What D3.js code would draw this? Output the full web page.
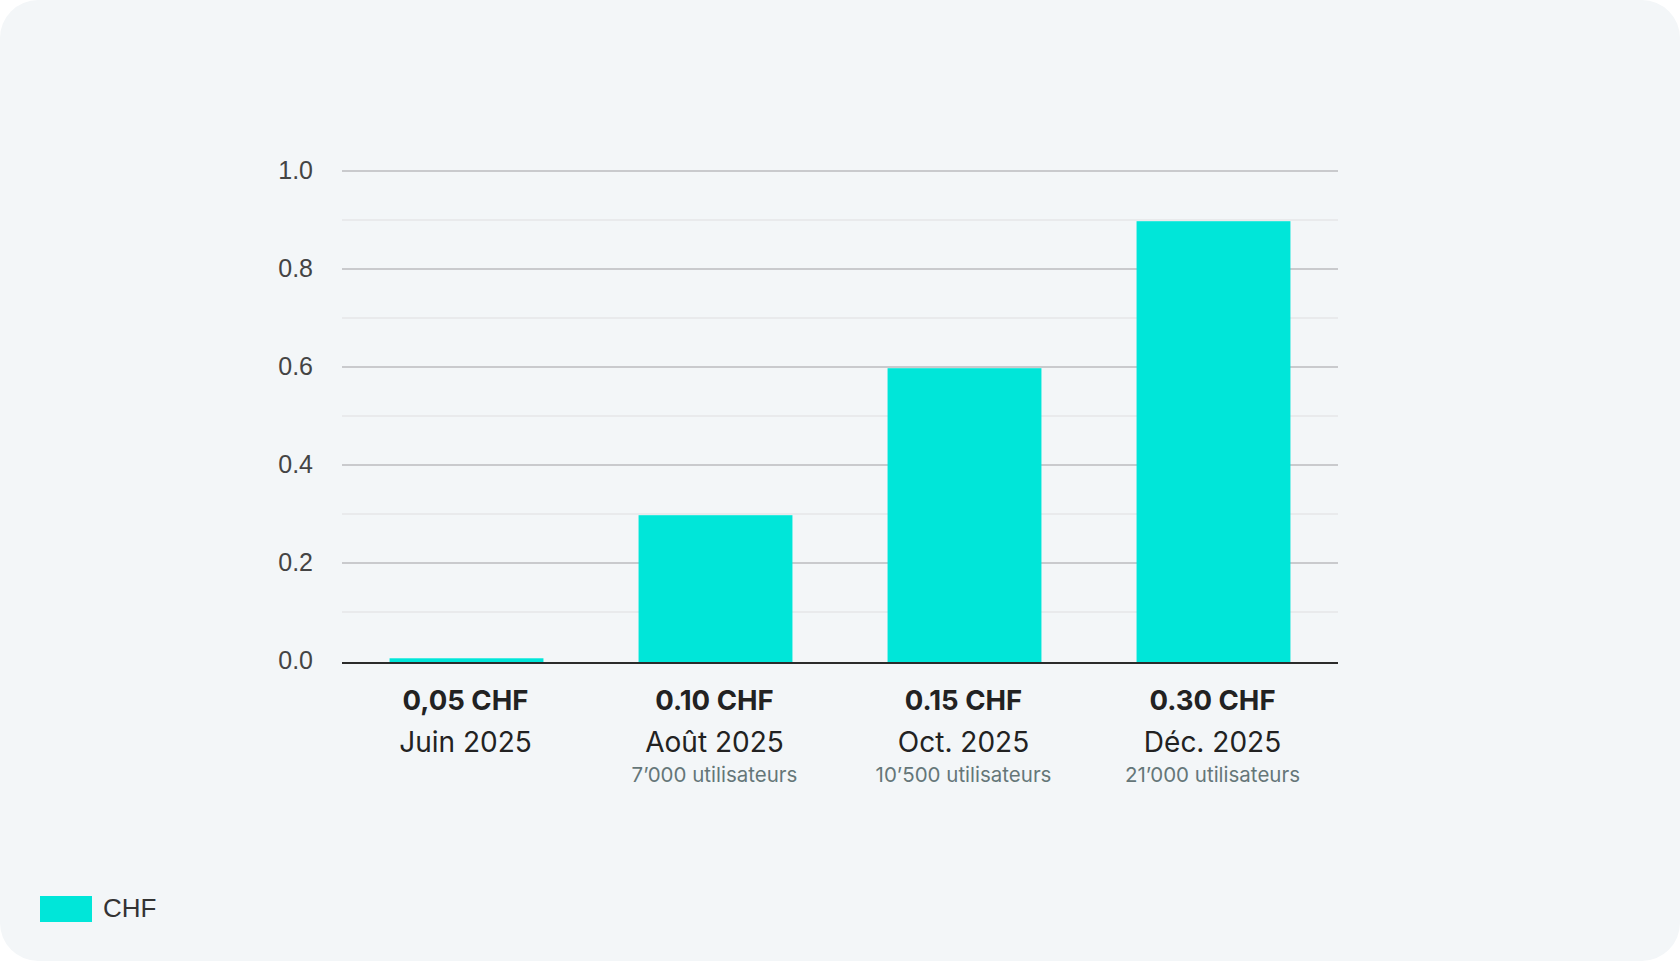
<!DOCTYPE html>
<html><head><meta charset="utf-8">
<script src="https://cdn.jsdelivr.net/npm/d3@7"></script>
<style>
html,body{margin:0;padding:0;background:#ffffff;}
svg{display:block;}
</style></head>
<body>
<svg id="chart" width="1680" height="962"></svg>
<script>
const categories = ["Juin 2025", "Août 2025", "Oct. 2025", "Déc. 2025"];
const values = [0.008, 0.3, 0.6, 0.9];
const priceLabels = ["0,05 CHF", "0.10 CHF", "0.15 CHF", "0.30 CHF"];
const userLabels = ["", "7’000 utilisateurs", "10’500 utilisateurs", "21’000 utilisateurs"];
const majorTicks = [0, 0.2, 0.4, 0.6, 0.8, 1.0];
const minorTicks = [0.1, 0.3, 0.5, 0.7, 0.9];
const seriesName = "CHF";

const svg = d3.select("#chart");
svg.append("rect").attr("x",0).attr("y",0).attr("width",1680).attr("height",961)
  .attr("rx",38).attr("ry",38).attr("fill","#f3f6f8");

const x = d3.scaleBand().domain(categories).range([342, 1338]).paddingInner(0.382).paddingOuter(0.191);
const y = d3.scaleLinear().domain([0, 1]).range([661, 171]);

const grid = svg.append("g");
grid.selectAll("line.minor").data(minorTicks).join("line").attr("class","minor")
  .attr("x1",342).attr("x2",1338).attr("y1",d=>y(d)).attr("y2",d=>y(d))
  .attr("stroke","#e9eaec").attr("stroke-width",2);
grid.selectAll("line.major").data(majorTicks.filter(d=>d>0)).join("line").attr("class","major")
  .attr("x1",342).attr("x2",1338).attr("y1",d=>y(d)).attr("y2",d=>y(d))
  .attr("stroke","#c9cacd").attr("stroke-width",2);

const yAxis = d3.axisLeft(y).tickValues(majorTicks).tickFormat(d3.format(".1f")).tickSize(0).tickPadding(29);
const ya = svg.append("g").attr("transform","translate(342,0)").call(yAxis);
ya.select(".domain").remove();
ya.selectAll("text").attr("font-family","'Liberation Sans', Arial, sans-serif")
  .attr("font-size",25).attr("fill","#444").attr("dy","0.28em");

svg.append("g").selectAll("rect").data(values).join("rect")
  .attr("x",(d,i)=>x(categories[i])).attr("width",x.bandwidth())
  .attr("y",d=>y(d)+1.2).attr("height",d=>y(0)-y(d))
  .attr("fill","#00e6d9");

svg.append("line").attr("x1",342).attr("x2",1338).attr("y1",663).attr("y2",663)
  .attr("stroke","#2b2b2b").attr("stroke-width",2);

const lab = svg.append("g").attr("text-anchor","middle").attr("font-family","Inter, 'Open Sans', sans-serif");
lab.selectAll("text.price").data(priceLabels).join("text").attr("class","price")
  .attr("x",(d,i)=>x(categories[i])+x.bandwidth()/2-1).attr("y",710)
  .attr("font-size",27.5).attr("font-weight",700).attr("fill","#222").text(d=>d);
lab.selectAll("text.month").data(categories).join("text").attr("class","month")
  .attr("x",d=>x(d)+x.bandwidth()/2-1).attr("y",752)
  .attr("font-size",28).attr("font-weight",400).attr("fill","#222").text(d=>d);
lab.selectAll("text.users").data(userLabels).join("text").attr("class","users")
  .attr("x",(d,i)=>x(categories[i])+x.bandwidth()/2-1).attr("y",782)
  .attr("font-size",20.5).attr("font-weight",400).attr("fill","#657678").text(d=>d);

const leg = svg.append("g");
leg.append("rect").attr("x",40).attr("y",896).attr("width",52).attr("height",26).attr("fill","#00e6d9");
leg.append("text").attr("x",103).attr("y",917).attr("font-family","'Liberation Sans', Arial, sans-serif")
  .attr("font-size",26).attr("fill","#333").text(seriesName);
</script>
</body></html>
